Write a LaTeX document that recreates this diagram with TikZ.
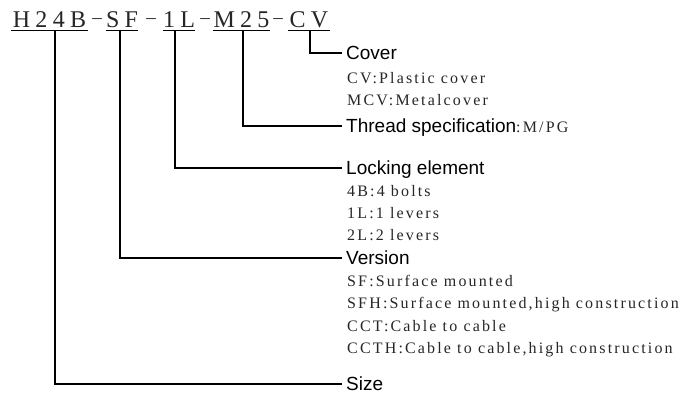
\documentclass[tikz,border=0pt]{standalone}
\usepackage{fontspec}
\setmainfont{Liberation Serif}
\newfontfamily\codefont[LetterSpace=22]{Liberation Serif}
\newfontfamily\descfont[LetterSpace=13.5]{Liberation Serif}
\newfontfamily\lblfont{Liberation Sans}
\begin{document}
\begin{tikzpicture}[x=1pt,y=-1pt,
  code/.style={font=\codefont\fontsize{24}{24}\selectfont, text=black!85, inner sep=0pt, text depth=0pt, anchor=base},
  dashmark/.style={font=\codefont\fontsize{19}{19}\selectfont, text=black!85, inner sep=0pt, text depth=0pt, anchor=base},
  lbl/.style={font=\lblfont\fontsize{19}{19}\selectfont, inner xsep=4pt, inner ysep=0pt, text height=13.5pt, text depth=0pt, anchor=west},
  desc/.style={font=\descfont\fontsize{16}{16}\selectfont, text=black!85, inner sep=0pt, anchor=base west},
  conn/.style={line width=1.1pt},
  uline/.style={line width=1.1pt}]
\useasboundingbox (0,0) rectangle (685,397);
% code
\node[code, minimum width=77] (h) at (49.5,27) {H24B};
\node[dashmark] (d1) at (97,23) {–};
\node[code, minimum width=32] (s) at (122,27) {SF};
\node[dashmark] (d2) at (151,23) {–};
\node[code, minimum width=32] (l) at (179,27) {1L};
\node[dashmark] (d3) at (205,23) {–};
\node[code, minimum width=53] (m) at (241.5,27) {M25};
\node[dashmark] (d4) at (278,23) {–};
\node[code, minimum width=42] (c) at (309,27) {CV};
\foreach \n in {h,s,l,m,c}
  \draw[uline] ([yshift=-3.5pt]\n.south west) -- ([yshift=-3.5pt]\n.south east);
% labels
\node[lbl] (cover) at (342,53) {Cover};
\node[desc] (cv1) at (347,83) {CV:Plastic cover};
\node[desc] (cv2) at (347,105) {MCV:Metalcover};
\node[lbl] (thread) at (342,126) {Thread specification{\descfont\fontsize{16}{16}\selectfont\color{black!85}:M/PG}};
\node[lbl] (lock) at (342,168) {Locking element};
\node[desc] (b4) at (347,196) {4B:4 bolts};
\node[desc] (l1) at (347,218) {1L:1 levers};
\node[desc] (l2) at (347,240) {2L:2 levers};
\node[lbl] (ver) at (342,258) {Version};
\node[desc] (sf) at (347,286) {SF:Surface mounted};
\node[desc] (sfh) at (347,308) {SFH:Surface mounted,high construction};
\node[desc] (cct) at (347,331) {CCT:Cable to cable};
\node[desc] (ccth) at (347,353) {CCTH:Cable to cable,high construction};
\node[lbl] (size) at (342,384) {Size};
% connectors
\draw[conn] ([xshift=1pt,yshift=-3.5pt]c.south) |- (cover.west);
\draw[conn] ([xshift=1.5pt,yshift=-3.5pt]m.south) |- (thread.west);
\draw[conn] ([xshift=-4pt,yshift=-3.5pt]l.south) |- (lock.west);
\draw[conn] ([xshift=-2pt,yshift=-3.5pt]s.south) |- (ver.west);
\draw[conn] ([xshift=5.5pt,yshift=-3.5pt]h.south) |- (size.west);
\end{tikzpicture}
\end{document}
